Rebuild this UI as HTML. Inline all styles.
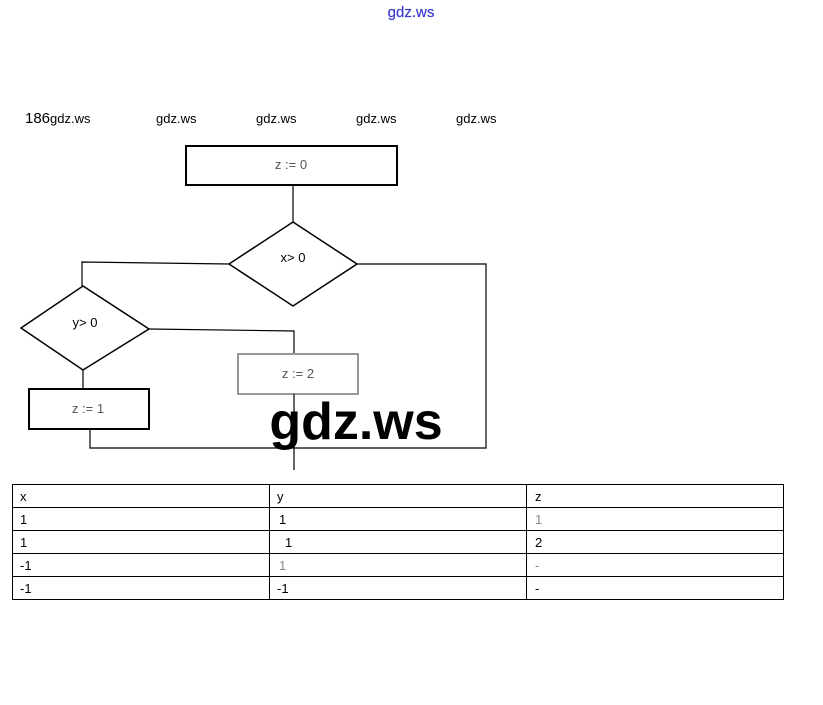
<!DOCTYPE html>
<html><head><meta charset="utf-8"><style>
html,body{margin:0;padding:0;background:#fff;width:823px;height:705px;overflow:hidden}
svg{display:block}
</style></head><body>
<svg width="823" height="705" viewBox="0 0 823 705" xmlns="http://www.w3.org/2000/svg" font-family="Liberation Sans, sans-serif">
<text x="411" y="17" font-size="15" fill="#3a3ad0" text-anchor="middle" stroke="#3a3ad0" stroke-width="0.2">gdz.ws</text>
<g font-size="13" fill="#000">
<text x="25" y="123"><tspan font-size="15">186</tspan>gdz.ws</text>
<text x="156" y="123">gdz.ws</text>
<text x="256" y="123">gdz.ws</text>
<text x="356" y="123">gdz.ws</text>
<text x="456" y="123">gdz.ws</text>
</g>
<g fill="none" stroke="#000" stroke-width="1.2">
<rect x="186" y="146" width="211" height="39" stroke-width="2"/>
<line x1="293" y1="185" x2="293" y2="222"/>
<polygon points="293,222 357,264 293,306 229,264" stroke-width="1.5"/>
<polyline points="229,264 82,262 82,286"/>
<polygon points="83,286 149,329 83,370 21,328" stroke-width="1.5"/>
<polyline points="149,329 294,331 294,353"/>
<rect x="238" y="354" width="120" height="40" stroke="#777" stroke-width="1.5"/>
<line x1="294" y1="394" x2="294" y2="470"/>
<line x1="83" y1="370" x2="83" y2="388"/>
<rect x="29" y="389" width="120" height="40" stroke-width="2"/>
<polyline points="90,429 90,448 486,448 486,264 357,264"/>
</g>
<g font-size="13" fill="#555" text-anchor="middle">
<text x="291" y="169">z := 0</text>
<text x="293" y="262" fill="#000">x&gt; 0</text>
<text x="85" y="327" fill="#000">y&gt; 0</text>
<text x="298" y="378">z := 2</text>
<text x="88" y="413">z := 1</text>
</g>
<text x="356" y="439" font-size="52" font-weight="bold" text-anchor="middle" fill="#000">gdz.ws</text>
<g stroke="#000" stroke-width="1" fill="none">
<rect x="12.5" y="484.5" width="771" height="115"/>
<line x1="12" y1="507.5" x2="783" y2="507.5"/>
<line x1="12" y1="530.5" x2="783" y2="530.5"/>
<line x1="12" y1="553.5" x2="783" y2="553.5"/>
<line x1="12" y1="576.5" x2="783" y2="576.5"/>
<line x1="269.5" y1="484" x2="269.5" y2="600"/>
<line x1="526.5" y1="484" x2="526.5" y2="600"/>
</g>
<g font-size="13" fill="#000">
<text x="20" y="501">x</text><text x="277" y="501">y</text><text x="535" y="501">z</text>
<text x="20" y="524">1</text><text x="279" y="524">1</text><text x="535" y="524" fill="#888">1</text>
<text x="20" y="547">1</text><text x="285" y="547">1</text><text x="535" y="547">2</text>
<text x="20" y="570">-1</text><text x="279" y="570" fill="#888">1</text><text x="535" y="570" fill="#888">-</text>
<text x="20" y="593">-1</text><text x="277" y="593">-1</text><text x="535" y="593">-</text>
</g>
</svg>
</body></html>
